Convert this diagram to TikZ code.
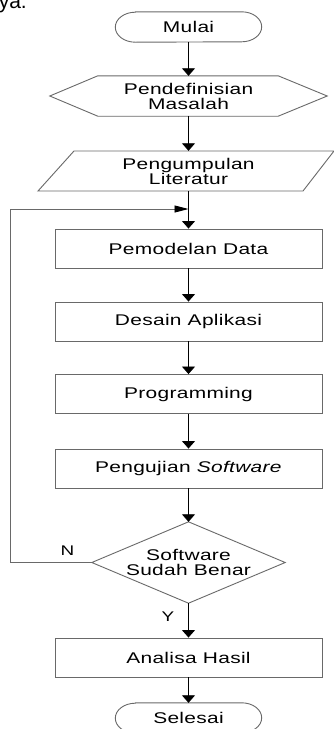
\documentclass[tikz,border=0pt]{standalone}
\usepackage{fontspec}
\setmainfont{Liberation Sans}[FakeStretch=1.35,LetterSpace=2]
\newfontfamily\bodyfont{Liberation Sans}
\usetikzlibrary{arrows.meta}
\definecolor{edgegray}{RGB}{105,105,105}
\tikzset{
  shp/.style={draw=edgegray, line width=0.9pt},
  lbl/.style={inner sep=0pt, font=\fontsize{15.5}{15}\selectfont, align=center},
  box/.style={lbl, shp, minimum width=267pt, minimum height=39pt},
  ghost/.style={lbl, minimum height=30pt},
  flow/.style={draw=black, line width=0.8pt, -{Triangle[length=7.5pt,width=13pt,color=black]}},
  back/.style={draw=edgegray, line width=0.9pt, -{Triangle[length=14pt,width=7pt,color=black]}},
  yn/.style={inner sep=0pt, font=\fontsize{14}{14}\selectfont}
}
\begin{document}
\begin{tikzpicture}[x=1pt,y=-1pt]
\useasboundingbox (0,0) rectangle (334,729);
\fill[white] (0,0) rectangle (334,729);

\node[inner sep=0pt, anchor=base east, font=\bodyfont\fontsize{21}{21}\selectfont] (nya) at (27,8) {nya.};

% Mulai
\node[ghost, minimum width=146pt] (mulai) at (188.5,27) {Mulai};
\draw[shp] ([xshift=20pt]mulai.north west) -- ([xshift=-20pt]mulai.north east)
  arc[start angle=90, end angle=-90, x radius=20pt, y radius=15pt]
  -- ([xshift=20pt]mulai.south west)
  arc[start angle=270, end angle=90, x radius=20pt, y radius=15pt] -- cycle;

% Hexagon
\node[lbl, minimum width=277pt, minimum height=40pt] (hex) at (188.5,96) {Pendefinisian\\Masalah};
\draw[shp] (hex.west) -- ([xshift=48pt]hex.north west) -- ([xshift=-49pt]hex.north east)
  -- (hex.east) -- ([xshift=-49pt]hex.south east) -- ([xshift=48pt]hex.south west) -- cycle;

% Parallelogram
\node[lbl, minimum width=200pt, minimum height=40pt] (lit) at (188.5,171) {Pengumpulan\\Literatur};
\draw[shp] (38,191) -- (74,151) -- (334,151) -- (303,191) -- cycle;

% Boxes
\node[box] (model) at (188.5,248.5) {Pemodelan Data};
\node[box] (desain) at (188.5,321.5) {Desain Aplikasi};
\node[box] (prog) at (188.5,394) {Programming};
\node[box] (uji) at (188.5,468.5) {Pengujian \textit{Software}};

% Diamond
\node[lbl, minimum width=193pt, minimum height=81pt] (cek) at (188.5,562.5) {Software\\Sudah Benar};
\draw[shp] (cek.north) -- (cek.east) -- (cek.south) -- (cek.west) -- cycle;

\node[box] (analisa) at (188.5,657.5) {Analisa Hasil};

% Selesai
\node[ghost, minimum width=146pt] (selesai) at (188.5,718) {Selesai};
\draw[shp] ([xshift=20pt]selesai.north west) -- ([xshift=-20pt]selesai.north east)
  arc[start angle=90, end angle=-90, x radius=20pt, y radius=15pt]
  -- ([xshift=20pt]selesai.south west)
  arc[start angle=270, end angle=90, x radius=20pt, y radius=15pt] -- cycle;

% Connectors
\coordinate (join) at (188.5,209);
\coordinate (lefttop) at (10,209);
\coordinate (leftbot) at (10,562.5);
\draw[flow] (mulai.south) -- (hex.north);
\draw[flow] (hex.south) -- (lit.north);
\draw[flow] (lit.south) -- (model.north);
\draw[flow] (model.south) -- (desain.north);
\draw[flow] (desain.south) -- (prog.north);
\draw[flow] (prog.south) -- (uji.north);
\draw[flow] (uji.south) -- (cek.north);
\draw[flow] (cek.south) -- (analisa.north);
\draw[flow] (analisa.south) -- (selesai.north);
\draw[back] (cek.west) -- (leftbot) -- (lefttop) -- (join);

\node[yn] (n) at (67.5,551) {N};
\node[yn] (y) at (168,617) {Y};
\end{tikzpicture}
\end{document}
